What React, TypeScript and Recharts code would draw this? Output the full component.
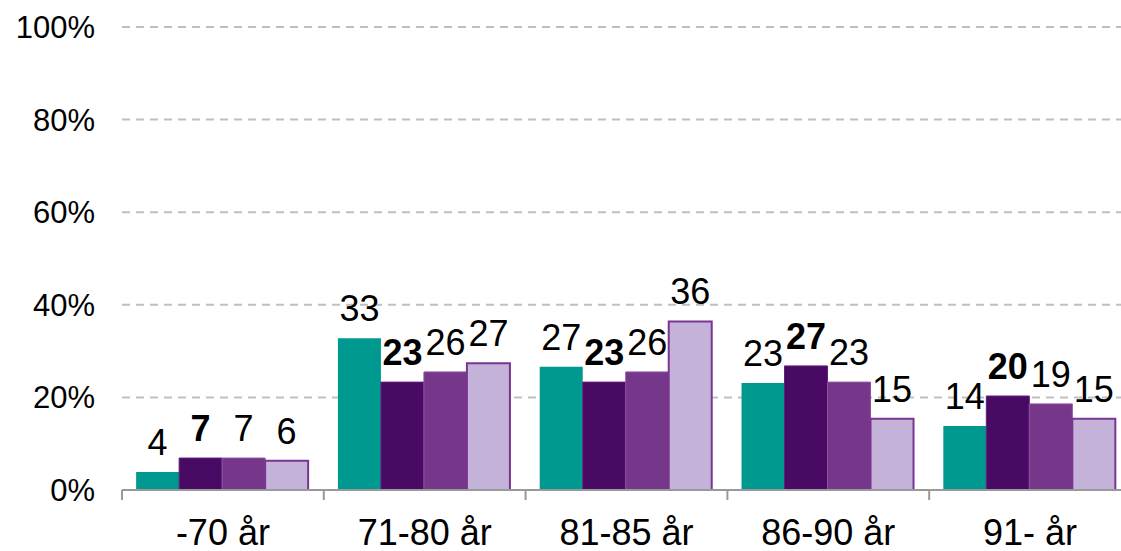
import React from 'react';
import {
  BarChart, Bar, XAxis, YAxis, CartesianGrid, LabelList,
} from 'recharts';

const categories = ['-70 år', '71-80 år', '81-85 år', '86-90 år', '91- år'];
const series1 = [3.9, 32.8, 26.6, 23.1, 13.8];
const series2 = [6.9, 23.3, 23.3, 26.8, 20.3];
const series3 = [6.9, 25.5, 25.5, 23.3, 18.6];
const series4 = [6.3, 27.4, 36.4, 15.4, 15.4];
const yTicks = [0, 20, 40, 60, 80, 100];

const data = categories.map((name, i) => ({
  name,
  s1: series1[i],
  s2: series2[i],
  s3: series3[i],
  s4: series4[i],
}));

const FONT = '"Liberation Sans", Arial, sans-serif';
const fmt = (v: any) => Math.round(Number(v)).toString();

const labelStyle = { fontSize: 36, fill: '#000', fontFamily: FONT };

const TICK_MARGIN = 29;
const TICK_LEN = 10;

// category label plus tick marks on the category boundaries
function CategoryTick(props: any) {
  const { x, y, payload, index, visibleTicksCount } = props;
  const half = payload.offset || 0;
  const axisY = y - TICK_MARGIN;
  const isLast = index === visibleTicksCount - 1;
  return (
    <g>
      <line x1={x - half} x2={x - half} y1={axisY} y2={axisY + TICK_LEN} stroke="#999" strokeWidth={2} />
      {isLast && (
        <line x1={x + half} x2={x + half} y1={axisY} y2={axisY + TICK_LEN} stroke="#999" strokeWidth={2} />
      )}
      <text x={x} y={y} dy="0.71em" textAnchor="middle" fontSize={36} fill="#000" fontFamily={FONT}>
        {payload.value}
      </text>
    </g>
  );
}

export default function App() {
  return (
    <div style={{ position: 'absolute', left: 0, top: 0, width: 1121, height: 551, overflow: 'hidden', background: '#fff' }}>
      <BarChart
        width={1131}
        height={551}
        data={data}
        margin={{ top: 27, right: 0, bottom: 0, left: 0 }}
        barCategoryGap="7%"
        barGap={0}
      >
        <CartesianGrid
          vertical={false}
          stroke="#BFBFBF"
          strokeWidth={2}
          strokeDasharray="8 6"
        />
        <XAxis
          dataKey="name"
          axisLine={{ stroke: '#999', strokeWidth: 2 }}
          tickLine={false}
          tickSize={0}
          tickMargin={TICK_MARGIN}
          height={61}
          interval={0}
          tick={CategoryTick}
        />
        <YAxis
          domain={[0, 100]}
          ticks={yTicks}
          width={122}
          axisLine={false}
          tickLine={false}
          tickSize={0}
          tickMargin={27}
          tickFormatter={(v) => `${v}%`}
          tick={{ fontSize: 31, fill: '#000', fontFamily: FONT }}
        />
        <Bar dataKey="s1" fill="#009990" isAnimationActive={false}>
          <LabelList dataKey="s1" position="top" offset={17} formatter={fmt} style={labelStyle} />
        </Bar>
        <Bar dataKey="s2" fill="#490A66" stroke="#5E2079" strokeWidth={1} isAnimationActive={false}>
          <LabelList dataKey="s2" position="top" offset={17} formatter={fmt} style={{ ...labelStyle, fontWeight: 'bold' }} />
        </Bar>
        <Bar dataKey="s3" fill="#76378B" stroke="#8A55A0" strokeWidth={1} isAnimationActive={false}>
          <LabelList dataKey="s3" position="top" offset={17} formatter={fmt} style={labelStyle} />
        </Bar>
        <Bar dataKey="s4" fill="#C4B2D8" stroke="#7A3593" strokeWidth={2} isAnimationActive={false}>
          <LabelList dataKey="s4" position="top" offset={17} formatter={fmt} style={labelStyle} />
        </Bar>
      </BarChart>
    </div>
  );
}
